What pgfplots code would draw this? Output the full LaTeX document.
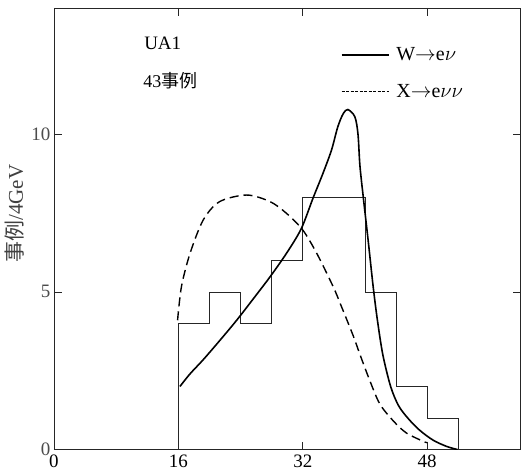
\documentclass[border=0pt]{standalone}
\usepackage{pgfplots}
\pgfplotsset{compat=1.18}
\usepackage{fontspec}
\setmainfont{Liberation Serif}
\newfontfamily\cjk{Noto Sans CJK SC}
\begin{document}
\begin{tikzpicture}
\path[use as bounding box] (-54pt,-21pt) rectangle (467.5pt,450pt);
\begin{axis}[
  at={(0pt,0pt)}, anchor=south west,
  scale only axis, width=467pt, height=442pt,
  xmin=0, xmax=60, ymin=0, ymax=14,
  clip mode=individual,
  xtick={0,16,32,48}, ytick={0,5,10},
  tick align=inside, major tick length=8pt,
  axis line style={black!85, line width=0.7pt},
  tick style={black!85, line width=0.7pt},
  /pgf/number format/assume math mode=true,
  tick label style={font=\fontsize{19}{22}\selectfont},
  xticklabel style={yshift=-2pt},
  yticklabel style={black!70},
  legend cell align=left,
  legend image code/.code={\draw[#1] (0pt,0pt) -- (47pt,0pt);},
  legend style={at={(rel axis cs:0.608,0.92)}, anchor=north west, draw=none, fill=none,
    font=\fontsize{20}{23}\selectfont, row sep=18pt,
    nodes={inner xsep=7pt}},
]
% histogram (43 events, 4 GeV bins)
\addplot[const plot, black!85, line width=0.7pt, forget plot] coordinates {
  (16,0) (16,4) (20,5) (24,4) (28,6) (32,8) (36,8) (40,5) (44,2) (48,1) (52,1) (52,0)
};
% W -> e nu
\addplot[smooth, black, line width=1.6pt, forget plot] coordinates {
  (16.2,2.0) (17.5,2.4) (19.2,2.85) (21.3,3.45) (23.5,4.1) (25.7,4.8) (27.8,5.48)
  (29.9,6.22) (31.8,7.0) (33.3,7.96) (34.6,8.76) (35.7,9.5) (36.5,10.23) (37.2,10.65)
  (37.8,10.78) (38.7,10.55) (39.1,10.0) (39.35,9.0) (39.8,7.96) (40.4,6.65)
  (41.05,5.17) (41.6,4.1) (42.3,3.0) (43.3,2.0) (44.3,1.4) (45.5,1.0) (47,0.62)
  (48.75,0.3) (50.5,0.1) (51.9,0.0)
};
% X -> e nu nu
\addplot[smooth, black, line width=1.4pt, dash pattern=on 9pt off 5pt, forget plot] coordinates {
  (15.9,4.1) (16.4,5.17) (17.5,6.22) (19.2,7.28) (21.3,7.86) (24.8,8.07) (27.8,7.86)
  (29.9,7.49) (32,6.96) (33.8,6.22) (35.9,5.17) (36.8,4.64) (38.5,3.6) (39.3,3.05)
  (40.6,2.2) (41.9,1.45) (43.6,0.92) (45.3,0.53) (47.5,0.26) (48,0.22)
};
\addlegendimage{black, line width=1.6pt}
\addlegendentry{W$\rightarrow$e$\nu$}
\addlegendimage{black, line width=0.8pt, dash pattern=on 3pt off 1.5pt}
\addlegendentry{X$\rightarrow$e$\nu\nu$}
\node[anchor=west, font=\fontsize{19}{22}\selectfont] at (rel axis cs:0.186,0.921) {UA1};
\node[anchor=west, font=\fontsize{18}{21}\selectfont] at (rel axis cs:0.184,0.835) {43{\cjk 事例}};
\node[rotate=90, font=\fontsize{21}{24}\selectfont, black!75] at (rel axis cs:-0.0835,0.534) {{\cjk 事例}/4GeV};
\end{axis}
\end{tikzpicture}
\end{document}
